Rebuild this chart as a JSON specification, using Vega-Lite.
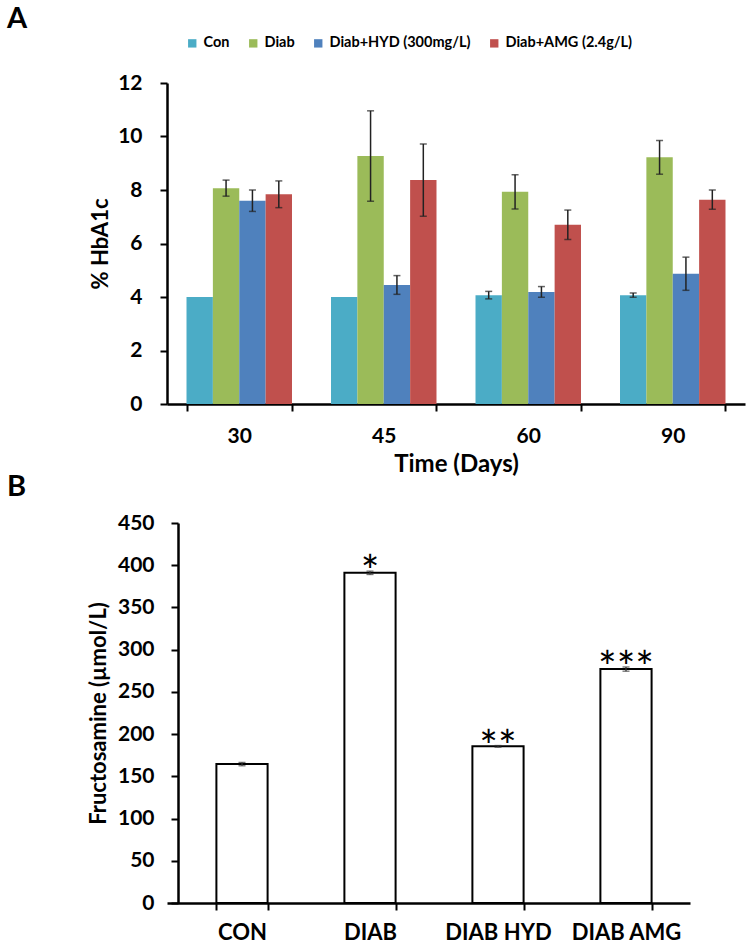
{
  "$schema": "https://vega.github.io/schema/vega-lite/v6.json",
  "padding": {"left": 7, "top": 5, "right": 5, "bottom": 5},
  "background": "white",
  "config": {
    "font": "Lato",
    "view": {"stroke": null},
    "axis": {
      "grid": false,
      "domainColor": "#000",
      "tickColor": "#000",
      "labelColor": "#000",
      "titleColor": "#000",
      "labelFont": "Lato",
      "titleFont": "Lato",
      "labelFontWeight": "bold",
      "titleFontWeight": "bold",
      "domainWidth": 2.5,
      "tickWidth": 2,
      "tickSize": 7
    }
  },
  "datasets": {
    "hba1c": [
      {"day": "30", "group": "Con", "value": 4.0, "lo": null, "hi": null},
      {"day": "30", "group": "Diab", "value": 8.07, "lo": 7.77, "hi": 8.37},
      {"day": "30", "group": "Diab+HYD (300mg/L)", "value": 7.6, "lo": 7.2, "hi": 8.0},
      {"day": "30", "group": "Diab+AMG (2.4g/L)", "value": 7.84, "lo": 7.34, "hi": 8.34},
      {"day": "45", "group": "Con", "value": 4.0, "lo": null, "hi": null},
      {"day": "45", "group": "Diab", "value": 9.27, "lo": 7.58, "hi": 10.96},
      {"day": "45", "group": "Diab+HYD (300mg/L)", "value": 4.45, "lo": 4.1, "hi": 4.8},
      {"day": "45", "group": "Diab+AMG (2.4g/L)", "value": 8.37, "lo": 7.02, "hi": 9.72},
      {"day": "60", "group": "Con", "value": 4.07, "lo": 3.93, "hi": 4.21},
      {"day": "60", "group": "Diab", "value": 7.93, "lo": 7.29, "hi": 8.57},
      {"day": "60", "group": "Diab+HYD (300mg/L)", "value": 4.19, "lo": 3.99, "hi": 4.39},
      {"day": "60", "group": "Diab+AMG (2.4g/L)", "value": 6.7, "lo": 6.15, "hi": 7.25},
      {"day": "90", "group": "Con", "value": 4.07, "lo": 3.99, "hi": 4.15},
      {"day": "90", "group": "Diab", "value": 9.22, "lo": 8.59, "hi": 9.85},
      {"day": "90", "group": "Diab+HYD (300mg/L)", "value": 4.87, "lo": 4.25, "hi": 5.49},
      {"day": "90", "group": "Diab+AMG (2.4g/L)", "value": 7.64, "lo": 7.28, "hi": 8.0}
    ],
    "fruct": [
      {"grp": "CON", "value": 164.5, "lo": 162.5, "hi": 166.5, "sig": ""},
      {"grp": "DIAB", "value": 391, "lo": 389, "hi": 393, "sig": "*"},
      {"grp": "DIAB HYD", "value": 185.5, "lo": 184.5, "hi": 186.5, "sig": "**"},
      {"grp": "DIAB AMG", "value": 277, "lo": 274.5, "hi": 279.5, "sig": "***"}
    ]
  },
  "vconcat": [
    {
      "title": {"text": "A", "anchor": "start", "frame": "group", "dx": -160, "fontSize": 29, "fontWeight": "bold", "font": "Lato", "color": "#000", "offset": 38},
      "width": 578,
      "height": 321,
      "data": {"name": "hba1c"},
      "encoding": {
        "x": {
          "field": "day", "type": "nominal", "sort": ["30", "45", "60", "90"],
          "scale": {"paddingInner": 0.27, "paddingOuter": 0.135},
          "axis": {"title": "Time (Days)", "labelAngle": 0, "labelFontSize": 21, "titleFontSize": 24, "labelPadding": 14, "titlePadding": 6, "tickBand": "extent"}
        },
        "xOffset": {
          "field": "group", "type": "nominal",
          "sort": ["Con", "Diab", "Diab+HYD (300mg/L)", "Diab+AMG (2.4g/L)"],
          "scale": {"paddingInner": 0, "paddingOuter": 0}
        }
      },
      "layer": [
        {
          "mark": {"type": "bar"},
          "encoding": {
            "y": {
              "field": "value", "type": "quantitative",
              "scale": {"domain": [0, 12], "nice": false},
              "axis": {"title": "% HbA1c", "values": [0, 2, 4, 6, 8, 10, 12], "labelFontSize": 21, "titleFontSize": 22, "labelPadding": 18, "titlePadding": 5}
            },
            "color": {
              "field": "group", "type": "nominal",
              "sort": ["Con", "Diab", "Diab+HYD (300mg/L)", "Diab+AMG (2.4g/L)"],
              "scale": {"domain": ["Con", "Diab", "Diab+HYD (300mg/L)", "Diab+AMG (2.4g/L)"], "range": ["#4BACC6", "#9BBB59", "#4F81BD", "#C0504D"]},
              "legend": {
                "title": null, "orient": "none", "legendX": 18, "legendY": -47,
                "direction": "horizontal", "columns": 4, "symbolType": "square", "symbolSize": 70,
                "symbolStrokeWidth": 0, "labelFontSize": 14.5, "labelFont": "Lato", "labelFontWeight": "bold",
                "labelColor": "#000", "columnPadding": 16, "labelOffset": 4
              }
            }
          }
        },
        {
          "transform": [{"filter": "isValid(datum.hi)"}],
          "mark": {"type": "rule", "color": "#222", "strokeWidth": 1.5},
          "encoding": {"y": {"field": "lo", "type": "quantitative"}, "y2": {"field": "hi"}}
        },
        {
          "transform": [{"filter": "isValid(datum.hi)"}],
          "mark": {"type": "tick", "color": "#222", "thickness": 1.5, "size": 7},
          "encoding": {"y": {"field": "lo", "type": "quantitative"}}
        },
        {
          "transform": [{"filter": "isValid(datum.hi)"}],
          "mark": {"type": "tick", "color": "#222", "thickness": 1.5, "size": 7},
          "encoding": {"y": {"field": "hi", "type": "quantitative"}}
        }
      ]
    },
    {
      "title": {"text": "B", "anchor": "start", "frame": "group", "dx": -160, "fontSize": 29, "fontWeight": "bold", "font": "Lato", "color": "#000", "offset": 10},
      "width": 523,
      "height": 380,
      "data": {"name": "fruct"},
      "encoding": {
        "x": {
          "field": "grp", "type": "nominal", "sort": ["CON", "DIAB", "DIAB HYD", "DIAB AMG"],
          "scale": {"paddingInner": 0.6, "paddingOuter": 0.343, "align": 0.5626},
          "axis": {"title": null, "labelAngle": 0, "labelFontSize": 22, "labelPadding": 12, "tickBand": "extent"}
        }
      },
      "layer": [
        {
          "mark": {"type": "bar", "fill": "white", "stroke": "#000", "strokeWidth": 2},
          "encoding": {
            "y": {
              "field": "value", "type": "quantitative",
              "scale": {"domain": [0, 450], "nice": false},
              "axis": {"title": "Fructosamine (µmol/L)", "offset": -11, "values": [0, 50, 100, 150, 200, 250, 300, 350, 400, 450], "labelFontSize": 21, "titleFontSize": 22, "labelPadding": 17, "titlePadding": 7}
            }
          }
        },
        {
          "mark": {"type": "rule", "color": "#333", "strokeWidth": 1.3},
          "encoding": {"y": {"field": "lo", "type": "quantitative"}, "y2": {"field": "hi"}}
        },
        {
          "mark": {"type": "tick", "color": "#333", "thickness": 1.3, "size": 7},
          "encoding": {"y": {"field": "lo", "type": "quantitative"}}
        },
        {
          "mark": {"type": "tick", "color": "#333", "thickness": 1.3, "size": 7},
          "encoding": {"y": {"field": "hi", "type": "quantitative"}}
        },
        {
          "mark": {"type": "text", "font": "Lato", "fontSize": 44, "baseline": "alphabetic", "dy": 16, "color": "#000"},
          "encoding": {"y": {"field": "hi", "type": "quantitative"}, "text": {"field": "sig"}}
        }
      ]
    }
  ],
  "spacing": -3
}
